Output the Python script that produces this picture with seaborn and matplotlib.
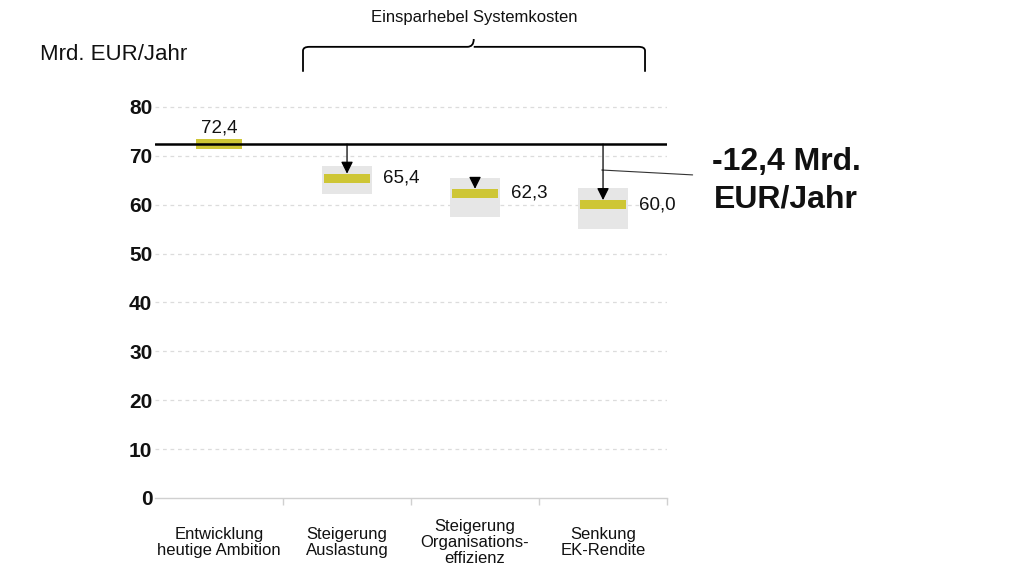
import numpy as np
import pandas as pd
import matplotlib
matplotlib.use("Agg")
import matplotlib.pyplot as plt
from matplotlib.path import Path
from matplotlib.patches import PathPatch
from matplotlib.ticker import FixedLocator
import seaborn as sns

# data
categories = ["Entwicklung\nheutige Ambition", "Steigerung\nAuslastung",
              "Steigerung\nOrganisations-\neffizienz", "Senkung\nEK-Rendite"]
values = [72.4, 65.4, 62.3, 60.0]
value_labels = ["72,4", "65,4", "62,3", "60,0"]
range_low = [np.nan, 62.2, 57.4, 55.0]
range_high = [np.nan, 67.9, 65.4, 63.5]
arrow_from = [np.nan, 72.4, 65.4, 72.4]
total_saving = "-12,4 Mrd.\nEUR/Jahr"
group_title = "Einsparhebel Systemkosten"
unit_label = "Mrd. EUR/Jahr"
yticks = [0, 10, 20, 30, 40, 50, 60, 70, 80]

sns.set_theme(style="white")
plt.rcParams['font.family'] = ['Liberation Sans', 'DejaVu Sans']

yellow = "#CEC635"
grey_box = "#E6E6E6"
ink = "#111111"
bar_thick = 1.9

df = pd.DataFrame({"cat": categories, "value": values,
                   "low": range_low, "high": range_high})
# first category has no range box -> zero height
df["span"] = (df["high"] - df["low"]).fillna(0)
df["low0"] = df["low"].fillna(0)
df["thick"] = bar_thick
df["ybot"] = df["value"] - bar_thick / 2

fig = plt.figure(figsize=(10.24, 5.67), dpi=100)
ax = fig.add_axes([0.1514, 0.1217, 0.5, 0.7069])

# grey uncertainty boxes
sns.barplot(data=df, x="cat", y="span", bottom=df["low0"].values,
            color=grey_box, width=0.39, errorbar=None, ax=ax,
            saturation=1, linewidth=0)
# yellow value bars
sns.barplot(data=df, x="cat", y="thick", bottom=df["ybot"].values,
            color=yellow, width=0.36, errorbar=None, ax=ax,
            saturation=1, linewidth=0)

ax.set_xlim(-0.5, 3.5)
ax.set_ylim(0, 82)

# reference line at starting value
ax.axhline(values[0], color="black", lw=1.8, zorder=3)

# arrows
for i, (start, v) in enumerate(zip(arrow_from, values)):
    if np.isnan(start):
        continue
    ax.annotate("", xy=(i, v + bar_thick / 2), xytext=(i, start),
                arrowprops=dict(arrowstyle="-|>,head_length=0.6,head_width=0.3",
                                color="black", lw=0.9, shrinkA=0, shrinkB=0),
                zorder=4)

# value labels
ax.text(0, values[0] + 1.5, value_labels[0], ha="center", va="bottom",
        fontsize=13.5, color=ink)
for i in range(1, len(values)):
    ax.text(i + 0.28, values[i], value_labels[i], ha="left", va="center",
            fontsize=13.5, color=ink)

# total saving callout
ax.plot([2.99, 3.70], [67.1, 66.1], color="#333333", lw=0.8, clip_on=False)
ax.text(3.70 + 0.73, 64.9, total_saving, ha="center", va="center",
        fontsize=23, fontweight="bold", color=ink, linespacing=1.3,
        clip_on=False)

# brace over the savings levers
x0, x1, xm = 0.656, 3.328, 1.99
yb, yt, ytip = 87.2, 92.3, 93.9
r = 0.05
verts = [(x0, yb), (x0, yt - 0.8), (x0, yt), (x0 + r, yt),
         (xm - r, yt), (xm, yt), (xm, ytip),
         (xm, yt), (xm + r, yt),
         (x1 - r, yt), (x1, yt), (x1, yt - 0.8), (x1, yb)]
codes = [Path.MOVETO, Path.LINETO, Path.CURVE3, Path.CURVE3,
         Path.LINETO, Path.CURVE3, Path.CURVE3,
         Path.MOVETO, Path.CURVE3,
         Path.LINETO, Path.CURVE3, Path.CURVE3, Path.LINETO]
ax.add_patch(PathPatch(Path(verts, codes), fill=False, lw=1.3,
                       edgecolor="black", clip_on=False))
ax.text(xm, 98.4, group_title, ha="center", va="center", fontsize=12,
        color=ink, clip_on=False)

# unit label
fig.text(40 / 1024, 1 - 55 / 567, unit_label, ha="left", va="center",
         fontsize=16, color=ink)

# axes styling
sns.despine(ax=ax, left=True, right=True, top=True)
ax.spines["bottom"].set_color("#d0d0d0")
ax.spines["bottom"].set_linewidth(1.0)
ax.set_yticks(yticks)
ax.set_yticklabels([str(t) for t in yticks], fontsize=15, fontweight="bold",
                   color=ink)
ax.tick_params(axis="y", length=0, pad=2)
ax.set_xticks(range(len(categories)))
ax.set_xticklabels(categories, fontsize=12, color=ink, linespacing=1.12)
for t in ax.get_xticklabels():
    t.set_va("center")
ax.tick_params(axis="x", which="major", length=0, pad=32)
ax.xaxis.set_minor_locator(FixedLocator([0.5, 1.5, 2.5, 3.5]))
ax.tick_params(axis="x", which="minor", bottom=True, length=5, width=1,
               color="#d0d0d0", direction="out")
for yv in yticks[1:]:
    ax.axhline(yv, color="#dcdcdc", lw=0.9, ls=(0, (3, 3)), zorder=0)
ax.grid(False)
ax.set_xlabel("")
ax.set_ylabel("")

fig.savefig("out.png", dpi=100)
